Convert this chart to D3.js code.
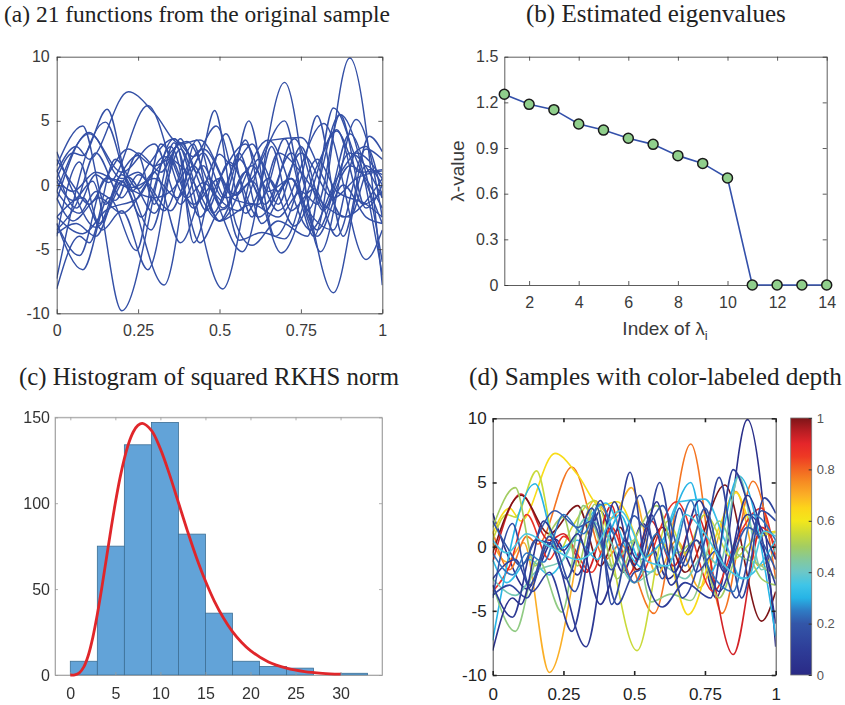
<!DOCTYPE html>
<html>
<head>
<meta charset="utf-8">
<script src="https://cdn.jsdelivr.net/npm/d3@7"></script>
<style>
  html, body { margin: 0; padding: 0; background: #fff; }
  svg { display: block; }
</style>
</head>
<body>
<svg id="fig" width="845" height="705"></svg>
<script>
// ---------- data ----------
// 21 sample functions on [0,1], each given by its turning points [t, value]
const f01 = [[0,2.6],[0.05,-0.5],[0.12,-3.3],[0.22,0.6],[0.3,-2.2],[0.38,2.8],[0.46,-2.0],[0.53,1.8],[0.62,-2.5],[0.72,0.5],[0.79,-4.0],[0.9,9.9],[1,-7.8]];
const f02 = [[0,0.3],[0.05,-1.2],[0.11,0.3],[0.2,-9.8],[0.36,3.6],[0.42,2.2],[0.49,4.6],[0.58,-2.2],[0.65,0.5],[0.73,-3.2],[0.86,4.3],[0.94,-1.5],[1,-0.5]];
const f03 = [[0,1.2],[0.06,-1.8],[0.12,0.8],[0.16,0.2],[0.28,6.2],[0.4,-1.0],[0.45,0.2],[0.57,-5.2],[0.7,8.0],[0.81,-5.2],[0.92,5.1],[1,-2.5]];
const f04 = [[0,1.0],[0.06,3.0],[0.1,2.0],[0.22,7.27],[0.3,5.6],[0.38,3.2],[0.44,3.5],[0.55,-0.8],[0.6,0.3],[0.69,-5.3],[0.8,1.5],[0.86,4.2],[0.93,1.0],[1,1.2]];
const f05 = [[0,0.5],[0.05,2.5],[0.08,2.3],[0.155,5.9],[0.23,-0.5],[0.28,1.5],[0.36,3.6],[0.51,-8.1],[0.62,2.0],[0.68,-0.5],[0.75,2.5],[0.85,-1.0],[0.92,0.5],[1,1.1]];
const f06 = [[0,-1.2],[0.1,4.1],[0.2,0.5],[0.25,1.0],[0.33,-2.0],[0.42,3.2],[0.48,-2.2],[0.56,2.0],[0.64,-1.5],[0.72,2.5],[0.85,-8.4],[0.95,1.5],[1,0]];
const f07 = [[0,-0.5],[0.1,4.0],[0.2,1.0],[0.3,3.2],[0.38,-1.5],[0.45,1.5],[0.51,-1.8],[0.6,1.5],[0.68,-2.0],[0.82,4.8],[0.95,-5.8],[1,-3.5]];
const f08 = [[0,-3.5],[0.06,-1.5],[0.12,2.5],[0.2,-1.0],[0.25,0.8],[0.35,-2.0],[0.42,1.5],[0.5,-2.8],[0.65,3.5],[0.78,-3.5],[0.86,0.5],[0.95,3.0],[1,-1.0]];
const f09 = [[0,-7.3],[0.15,4.9],[0.23,-0.2],[0.3,0.5],[0.37,-1.0],[0.45,2.5],[0.52,-1.0],[0.6,0.5],[0.7,5.0],[0.77,-2.0],[0.87,5.5],[1,-7.0]];
const f10 = [[0,-1.0],[0.05,-2.8],[0.13,-1.0],[0.2,-2.2],[0.3,1.0],[0.4,3.4],[0.48,-0.5],[0.56,-2.0],[0.66,3.5],[0.75,3.7],[0.82,0.5],[0.88,-2.5],[1,0.5]];
const f11 = [[0,-2.5],[0.08,-3.8],[0.15,-2.0],[0.25,-1.0],[0.33,2.2],[0.4,1.0],[0.5,-2.8],[0.6,-1.5],[0.68,-2.5],[0.75,-0.5],[0.8,-1.5],[0.87,5.5],[0.95,-1.8],[1,0.0]];
const f12 = [[0,-3.0],[0.08,-6.6],[0.16,-1.0],[0.245,-5.1],[0.32,3.2],[0.42,-1.5],[0.5,0.5],[0.56,-4.3],[0.63,-3.7],[0.7,-4.2],[0.8,2.0],[0.86,-0.5],[0.95,-1.5],[1,-2.5]];
const f13 = [[0,1.5],[0.08,4.6],[0.15,-1.5],[0.2,1.0],[0.25,2.3],[0.3,-1.5],[0.36,3.3],[0.44,-2.5],[0.5,0.5],[0.58,3.2],[0.65,-0.5],[0.72,0.5],[0.8,-4.0],[0.88,0.0],[0.95,-2.5],[1,-3.0]];
const f14 = [[0,-3.0],[0.07,-5.5],[0.15,0.5],[0.2,0.3],[0.33,-7.8],[0.43,3.5],[0.5,-1.5],[0.56,2.5],[0.63,-3.0],[0.72,0.5],[0.8,-3.5],[0.9,2.5],[1,-1.0]];
const f15 = [[0,-2.5],[0.08,-1.0],[0.14,-3.5],[0.2,-2.0],[0.28,-6.6],[0.38,3.6],[0.43,1.0],[0.485,5.8],[0.55,-3.0],[0.6,-4.7],[0.68,-2.8],[0.77,-4.0],[0.85,6.0],[0.92,2.0],[1,-3.0]];
const f16 = [[0,-3.8],[0.06,-3.0],[0.12,-4.0],[0.2,0.3],[0.26,-2.5],[0.35,3.0],[0.44,-4.5],[0.5,-2.0],[0.52,-1.8],[0.59,5.0],[0.67,-4.0],[0.75,0.5],[0.8,5.4],[0.88,-4.0],[0.96,3.8],[1,2.6]];
const f17 = [[0,-4.0],[0.07,1.8],[0.13,-3.0],[0.2,0.8],[0.29,-3.5],[0.37,3.0],[0.42,-4.5],[0.52,4.0],[0.6,-2.5],[0.66,3.0],[0.72,-2.0],[0.79,-0.3],[0.86,-4.0],[0.95,2.8],[1,2.0]];
const f18 = [[0,-8.1],[0.07,-4.0],[0.1,-4.5],[0.18,2.0],[0.25,-0.3],[0.3,1.0],[0.38,-4.5],[0.47,0.5],[0.51,-1.0],[0.58,3.5],[0.64,-2.0],[0.73,3.6],[0.82,-2.0],[0.9,4.0],[1,-6.0]];
const f19 = [[0,2.0],[0.05,0.0],[0.1,-1.5],[0.15,0.5],[0.22,2.8],[0.3,1.5],[0.35,2.0],[0.42,-1.8],[0.5,2.4],[0.54,1.5],[0.6,3.2],[0.68,-1.5],[0.75,3.0],[0.82,-1.8],[0.9,1.5],[1,-1.8]];
const f20 = [[0,-0.5],[0.07,-2.2],[0.12,-0.5],[0.18,-1.2],[0.25,2.5],[0.32,1.0],[0.38,3.3],[0.45,-0.5],[0.5,-2.8],[0.58,1.0],[0.63,-1.0],[0.7,3.6],[0.76,-1.5],[0.85,-3.5],[0.92,2.5],[1,0.5]];
const f21 = [[0,0.5],[0.05,-0.5],[0.12,1.0],[0.2,0.0],[0.3,-1.0],[0.35,-0.5],[0.45,2.8],[0.55,-1.2],[0.62,-1.5],[0.68,2.5],[0.75,1.0],[0.82,-1.5],[0.9,-2.5],[0.96,1.2],[1,0.8]];
const samples = [f01,f02,f03,f04,f05,f06,f07,f08,f09,f10,f11,f12,f13,f14,f15,f16,f17,f18,f19,f20,f21];
// depth of each sample (drives its colour in panel d)
const depth = [0.03,0.70,0.78,0.63,0.55,0.92,1.00,0.87,0.30,0.33,0.42,0.47,0.50,0.08,0.10,0.13,0.16,0.05,0.20,0.24,0.36];

// estimated eigenvalues
const eigIndex = [1,2,3,4,5,6,7,8,9,10,11,12,13,14];
const eigValue = [1.253,1.187,1.152,1.058,1.018,0.964,0.924,0.850,0.799,0.703,0,0,0,0];

// histogram of squared RKHS norm (bin edges and counts)
const binLo = [0,3,6,9,12,15,18,21,24,27,30];
const binHi = [3,6,9,12,15,18,21,24,27,30,33];
const binCount = [8,75,134,147,82,36,8,5,4,0,1];
// fitted density curve, scaled to counts
const fitX = [0,0.5,1,1.5,2,2.5,3,3.5,4,4.5,5,5.5,6,6.5,7,7.5,8,9,10,11,12,13,14,15,16,17,18,19,20,22,24,26,28,30];
const fitY = [0,0.1,1.2,4.7,11.5,21.9,35.3,50.9,67.7,84.4,100.2,114.3,126.0,135.2,141.6,145.3,146.5,142.4,131.6,116.9,100.4,83.9,68.4,54.7,42.9,33.2,25.3,19.1,14.2,7.6,4.0,2.0,1.0,0.5];

// tick labels
const tickA_x = [0,0.25,0.5,0.75,1], tickA_y = [-10,-5,0,5,10];
const tickB_x = [2,4,6,8,10,12,14], tickB_y = [0,0.3,0.6,0.9,1.2,1.5];
const tickC_x = [0,5,10,15,20,25,30], tickC_y = [0,50,100,150];
const tickCbar = [0,0.2,0.4,0.6,0.8,1];

// colormap stops (jet-like)
const cmapPos = [0,0.1,0.2,0.25,0.3,0.35,0.4,0.45,0.5,0.55,0.6,0.65,0.7,0.75,0.8,0.85,0.9,0.95,1];
const cmapCol = ["#2a2a86","#2e3d98","#3356a8","#2f7bc4","#27b4e6","#3fc5e8","#6cc7c8","#85c99a","#a3cd62","#c9da3a","#f3e71b","#fcd51a","#fbaf26","#f68d23","#f26522","#ee3a24","#e5262a","#b71d23","#7d1518"];

// ---------- drawing ----------
const svg = d3.select("#fig");
svg.append("rect").attr("width",845).attr("height",705).attr("fill","#fff");
const defs = svg.append("defs");
const jet = d3.scaleLinear().domain(cmapPos).range(cmapCol).interpolate(d3.interpolateRgb);
const SANS = "'Liberation Sans', Arial, Helvetica, sans-serif";
const SERIF = "'Liberation Serif', 'Times New Roman', serif";

function title(txt, x, y, width) {
  const t = svg.append("text").attr("x", x).attr("y", y)
    .attr("font-family", SERIF).attr("font-size", 20).attr("fill", "#222").text(txt);
  const w = t.node().getComputedTextLength();
  t.attr("font-size", 20 * width / w);
}

function clip(id, x0, x1, y0, y1) {
  defs.append("clipPath").attr("id", id).append("rect")
    .attr("x", x0).attr("y", y0).attr("width", x1 - x0).attr("height", y1 - y0);
}

// draws a boxed frame with inward ticks on all four sides
function frame(g, x, y, xt, yt, opt) {
  const [x0, x1] = x.range(), [y1, y0] = y.range();
  const tl = opt.tick || 4;
  const style = (sel, showText) => {
    sel.select(".domain").attr("stroke", opt.line).attr("stroke-width", opt.lw || 0.8);
    sel.selectAll(".tick line").attr("stroke", opt.line).attr("stroke-width", opt.tw || 0.8);
    sel.selectAll("text").attr("font-family", SANS).attr("font-size", opt.fs)
      .attr("fill", opt.text).style("display", showText ? null : "none");
  };
  g.append("g").attr("transform", `translate(0,${y1})`)
    .call(d3.axisBottom(x).tickValues(xt).tickFormat(opt.fx || (d => d)).tickSize(-tl).tickSizeOuter(0).tickPadding(opt.padB))
    .call(s => style(s, true));
  g.append("g").attr("transform", `translate(0,${y0})`)
    .call(d3.axisTop(x).tickValues(xt).tickSize(-tl).tickSizeOuter(0))
    .call(s => style(s, false));
  g.append("g").attr("transform", `translate(${x0},0)`)
    .call(d3.axisLeft(y).tickValues(yt).tickFormat(opt.fy || (d => d)).tickSize(-tl).tickSizeOuter(0).tickPadding(opt.padL))
    .call(s => style(s, true));
  g.append("g").attr("transform", `translate(${x1},0)`)
    .call(d3.axisRight(y).tickValues(yt).tickSize(-tl).tickSizeOuter(0))
    .call(s => style(s, false));
  g.selectAll(".domain").attr("fill", "none");
}

const fmtA = d => String(d);

// ----- (a) 21 sample functions -----
title("(a) 21 functions from the original sample", 4, 22, 386);
const xA = d3.scaleLinear().domain([0,1]).range([56.7, 382.3]);
const yA = d3.scaleLinear().domain([-10,10]).range([313.3, 56.7]);
clip("clipA", 56.7, 382.3, 56.7, 313.3);
const gA = svg.append("g");
const lineA = d3.line().x(d => xA(d[0])).y(d => yA(d[1])).curve(d3.curveMonotoneX);
gA.append("g").attr("clip-path", "url(#clipA)").selectAll("path").data(samples).join("path")
  .attr("d", lineA).attr("fill", "none").attr("stroke", "#3450a6").attr("stroke-width", 1.45);
frame(gA, xA, yA, tickA_x, tickA_y, {line:"#333", text:"#3a3a3a", fs:16, padB:11, padL:7, fx:fmtA});

// ----- (b) eigenvalues -----
title("(b) Estimated eigenvalues", 526, 22, 260);
const xB = d3.scaleLinear().domain([1,14]).range([504.3, 826.7]);
const yB = d3.scaleLinear().domain([0,1.5]).range([285, 56.7]);
const gB = svg.append("g");
frame(gB, xB, yB, tickB_x, tickB_y, {line:"#333", text:"#3a3a3a", fs:16, padB:12, padL:6, fy: d => d === 0 ? "0" : d3.format(".1f")(d)});
const eig = eigIndex.map((d, i) => [d, eigValue[i]]);
gB.append("path").datum(eig)
  .attr("d", d3.line().x(d => xB(d[0])).y(d => yB(d[1])))
  .attr("fill", "none").attr("stroke", "#3350aa").attr("stroke-width", 1.6);
gB.selectAll("circle").data(eig).join("circle")
  .attr("cx", d => xB(d[0])).attr("cy", d => yB(d[1])).attr("r", 5)
  .attr("fill", "#90cf8c").attr("stroke", "#1a1a1a").attr("stroke-width", 1.5);
const xl = gB.append("text").attr("x", 665).attr("y", 335).attr("text-anchor", "middle")
  .attr("font-family", SANS).attr("font-size", 19).attr("fill", "#3a3a3a");
xl.append("tspan").text("Index of λ");
xl.append("tspan").attr("font-size", 13).attr("dy", 5).text("i");
gB.append("text").attr("transform", "translate(464,171) rotate(-90)").attr("text-anchor", "middle")
  .attr("font-family", SANS).attr("font-size", 19).attr("fill", "#3a3a3a").text("λ-value");

// ----- (c) histogram -----
title("(c) Histogram of squared RKHS norm", 19, 385, 380);
defs.append("filter").attr("id", "soft").append("feGaussianBlur").attr("stdDeviation", 0.55);
const xC = d3.scaleLinear().domain([-1.7, 34.6]).range([55, 382]);
const yC = d3.scaleLinear().domain([0,150]).range([675, 417.3]);
const gC = svg.append("g").attr("filter", "url(#soft)");
gC.append("rect").attr("x", 55).attr("y", 417.3).attr("width", 327).attr("height", 257.7)
  .attr("fill", "none").attr("stroke", "#c4c4c4").attr("stroke-width", 1);
gC.selectAll("rect.bar").data(binCount).join("rect").attr("class", "bar")
  .attr("x", (d, i) => xC(binLo[i])).attr("width", (d, i) => xC(binHi[i]) - xC(binLo[i]))
  .attr("y", d => yC(d)).attr("height", d => yC(0) - yC(d))
  .attr("fill", "#62a3d8").attr("stroke", "#3c6e94").attr("stroke-width", 0.8);
frame(gC, xC, yC, tickC_x, tickC_y, {line:"#9a9a9a", text:"#333", fs:16, padB:13, padL:5, tick:3});
gC.append("path").datum(fitX.map((d, i) => [d, fitY[i]]))
  .attr("d", d3.line().x(d => xC(d[0])).y(d => yC(d[1])).curve(d3.curveCatmullRom))
  .attr("fill", "none").attr("stroke", "#e0262b").attr("stroke-width", 2.8);

// ----- (d) samples coloured by depth -----
title("(d) Samples with color-labeled depth", 469, 385, 373);
const xD = d3.scaleLinear().domain([0,1]).range([492.7, 775.7]);
const yD = d3.scaleLinear().domain([-10,10]).range([675, 418.3]);
clip("clipD", 492.7, 775.7, 418.3, 675);
const gD = svg.append("g");
const lineD = d3.line().x(d => xD(d[0])).y(d => yD(d[1])).curve(d3.curveMonotoneX);
gD.append("g").attr("clip-path", "url(#clipD)").selectAll("path").data(samples).join("path")
  .attr("d", lineD).attr("fill", "none").attr("stroke", (d, i) => jet(depth[i])).attr("stroke-width", 1.6);
frame(gD, xD, yD, tickA_x, tickA_y, {line:"#222", text:"#222", fs:17, padB:13, padL:6, fx:fmtA, tw:1.6});

// colour bar
const cb = {x: 790.7, w: 21, y0: 418, y1: 675};
const grad = defs.append("linearGradient").attr("id", "jetGrad")
  .attr("x1", 0).attr("y1", 1).attr("x2", 0).attr("y2", 0);
grad.selectAll("stop").data(cmapPos).join("stop")
  .attr("offset", d => d).attr("stop-color", (d, i) => cmapCol[i]);
svg.append("rect").attr("x", cb.x).attr("y", cb.y0).attr("width", cb.w).attr("height", cb.y1 - cb.y0)
  .attr("fill", "url(#jetGrad)").attr("stroke", "#777").attr("stroke-width", 0.8);
const yCb = d3.scaleLinear().domain([0,1]).range([cb.y1, cb.y0]);
svg.append("g").attr("transform", `translate(${cb.x + cb.w},0)`)
  .call(d3.axisRight(yCb).tickValues(tickCbar).tickFormat(d => d === 0 ? "0" : d === 1 ? "1" : d3.format(".1f")(d))
    .tickSize(-3).tickSizeOuter(0).tickPadding(5))
  .call(s => {
    s.select(".domain").remove();
    s.selectAll(".tick line").attr("stroke", "#333");
    s.selectAll("text").attr("font-family", SANS).attr("font-size", 13).attr("fill", "#555");
  });
</script>
</body>
</html>
